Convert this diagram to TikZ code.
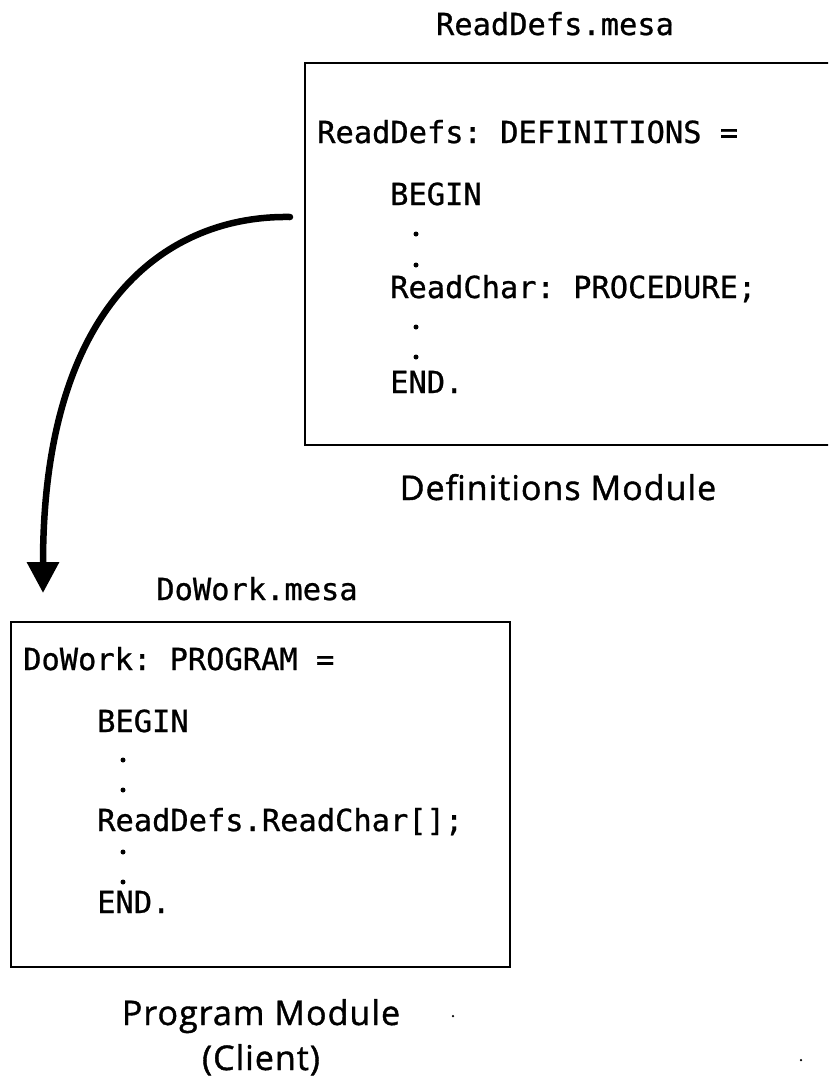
\documentclass[tikz,border=0pt]{standalone}
\usepackage{fontspec}
\setmonofont[FakeBold=0.8]{DejaVu Sans Mono}
\setsansfont[FakeBold=1.2,LetterSpace=3]{Open Sans}
\usetikzlibrary{arrows.meta}

\tikzset{
  codeline/.style={font=\ttfamily\fontsize{30.4}{36}\selectfont, inner sep=0pt, anchor=base west},
  fname/.style={font=\ttfamily\fontsize{30.4}{36}\selectfont, inner sep=0pt, anchor=base},
  modcap/.style={font=\sffamily\fontsize{34}{40}\selectfont, inner sep=0pt, anchor=base},
  modbox/.style={draw, line width=2.9pt, inner sep=0pt, outer sep=0pt, anchor=north west},
  usesarrow/.style={line width=6.5pt, line cap=round, -{Triangle[width=31pt,length=31pt]}},
  elide/.style={fill=black, inner sep=0pt, minimum size=5pt, circle},
  speck/.style={fill=black, inner sep=0pt, minimum size=2.5pt, circle}
}

\begin{document}
\begin{tikzpicture}[x=1pt, y=-1pt]
\useasboundingbox (0,0) rectangle (828,1092);
\clip (0,0) rectangle (828,1092);

% --- definitions module (ReadDefs.mesa) ---
\node[fname] (deftitle) at (555,35) {ReadDefs.mesa};
\node[modbox, minimum width=545pt, minimum height=382pt] (defbox) at (305,63) {};
\node[codeline] (dl1) at (317,143) {ReadDefs: DEFINITIONS =};
\node[codeline] (dl2) at (390,205) {BEGIN};
\node[elide] (dd1) at (416,234) {};
\node[elide] (dd2) at (416,265) {};
\node[codeline] (dl3) at (390,298) {ReadChar: PROCEDURE;};
\node[elide] (dd3) at (416,327) {};
\node[elide] (dd4) at (416,357) {};
\node[codeline] (dl4) at (390,393) {END.};
\node[modcap] (defcap) at (558,500) {Definitions Module};

% --- program module (DoWork.mesa) ---
\node[fname] (progtitle) at (257,600) {DoWork.mesa};
\node[modbox, minimum width=499pt, minimum height=345pt] (progbox) at (11,622) {};
\node[codeline] (pl1) at (23,670) {DoWork: PROGRAM =};
\node[codeline] (pl2) at (97,732) {BEGIN};
\node[elide] (pd1) at (123,760) {};
\node[elide] (pd2) at (123,790) {};
\node[codeline] (pl3) at (97,831) {ReadDefs.ReadChar[];};
\node[elide] (pd3) at (123,852) {};
\node[elide] (pd4) at (123,882) {};
\node[codeline] (pl4) at (97,913) {END.};
\node[modcap] (progcap) at (261,1025) {Program Module};
\node[modcap] (clientcap) at (261,1070) {(Client)};

% --- import arrow from the interface to its client ---
\coordinate (arrowfrom) at (290,217);
\coordinate (arrowto) at (43,593);
\draw[usesarrow] (arrowfrom) .. controls (170,215) and (43,300) .. (arrowto);

% small marks on the page
\node[speck] (speckA) at (453,1016) {};
\node[speck] (speckB) at (801,1060) {};
\end{tikzpicture}
\end{document}
